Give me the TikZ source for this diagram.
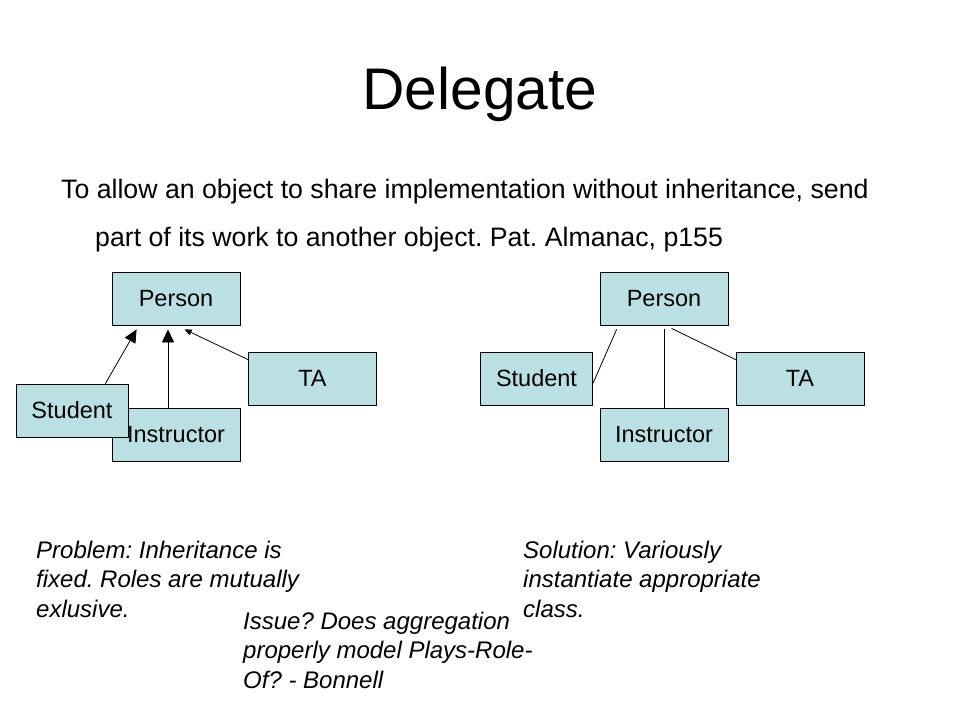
\documentclass[tikz,border=0pt]{standalone}
\usepackage{fontspec}
\setmainfont{Liberation Sans}
\usetikzlibrary{arrows.meta}
\frenchspacing
\definecolor{boxblue}{RGB}{187,224,227}
\tikzset{
    class-box/.style = {draw=black, fill=boxblue, line width=0.8pt, rectangle, minimum width=128pt, minimum height=53pt, inner sep=0pt, font=\fontsize{23.5}{28}\selectfont},
    small-class-box/.style = {class-box, minimum width=112pt},
    note-text/.style = {anchor=north west, inner sep=0pt, align=left, font=\fontsize{24}{29.5}\selectfont\itshape},
    body-text/.style = {anchor=base west, inner sep=0pt, font=\fontsize{26.7}{32}\selectfont},
    inherits/.style = {-{Triangle[length=13pt,width=12pt]}, line width=0.8pt},
    inherits-small/.style = {-{Triangle[length=7pt,width=6pt]}, line width=0.8pt},
    part-of/.style = {line width=0.8pt},
}
\begin{document}
\begin{tikzpicture}[x=1pt,y=-1pt]
\useasboundingbox (0,0) rectangle (960,720);
\node[anchor=base, inner sep=0pt, font=\fontsize{58.7}{70}\selectfont] (title) at (480,109) {Delegate};
\node[body-text] (line1) at (61,198) {To allow an object to share implementation without inheritance, send};
\node[body-text] (line2) at (95,246) {part of its work to another object. Pat. Almanac, p155};

\node[class-box] (person-l) at (176,298.5) {Person};
\node[class-box] (ta-l) at (312.5,378.5) {TA};
\node[class-box] (instr-l) at (176,434.5) {Instructor};
\node[small-class-box] (student-l) at (72,410.5) {Student};
\draw[inherits] ([xshift=-23pt]student-l.north east) -- ([xshift=25pt,yshift=-4pt]person-l.south west);
\draw[inherits] ([xshift=-8pt]instr-l.north) -- ([xshift=-8pt,yshift=-4pt]person-l.south);
\draw[inherits-small] ([yshift=-8pt]ta-l.north west) -- ([xshift=73pt,yshift=-4pt]person-l.south west);

\node[class-box] (person-r) at (664,298.5) {Person};
\node[small-class-box] (student-r) at (536.5,378.5) {Student};
\node[class-box] (ta-r) at (800,378.5) {TA};
\node[class-box] (instr-r) at (664,434.5) {Instructor};
\draw[part-of] ([xshift=17pt,yshift=-4pt]person-r.south west) -- ([yshift=-5pt]student-r.east);
\draw[part-of] ([yshift=-4pt]person-r.south) -- (instr-r.north);
\draw[part-of] ([xshift=72pt,yshift=-3pt]person-r.south west) -- ([yshift=-8pt]ta-r.north west);

\node[note-text] (problem) at (36,540.5) {Problem: Inheritance is\\fixed. Roles are mutually\\exlusive.};
\node[note-text] (solution) at (523,540.5) {Solution: Variously\\instantiate appropriate\\class.};
\node[note-text] (issue) at (243,611.5) {Issue? Does aggregation\\properly model Plays-Role-\\Of? - Bonnell};
\end{tikzpicture}
\end{document}
